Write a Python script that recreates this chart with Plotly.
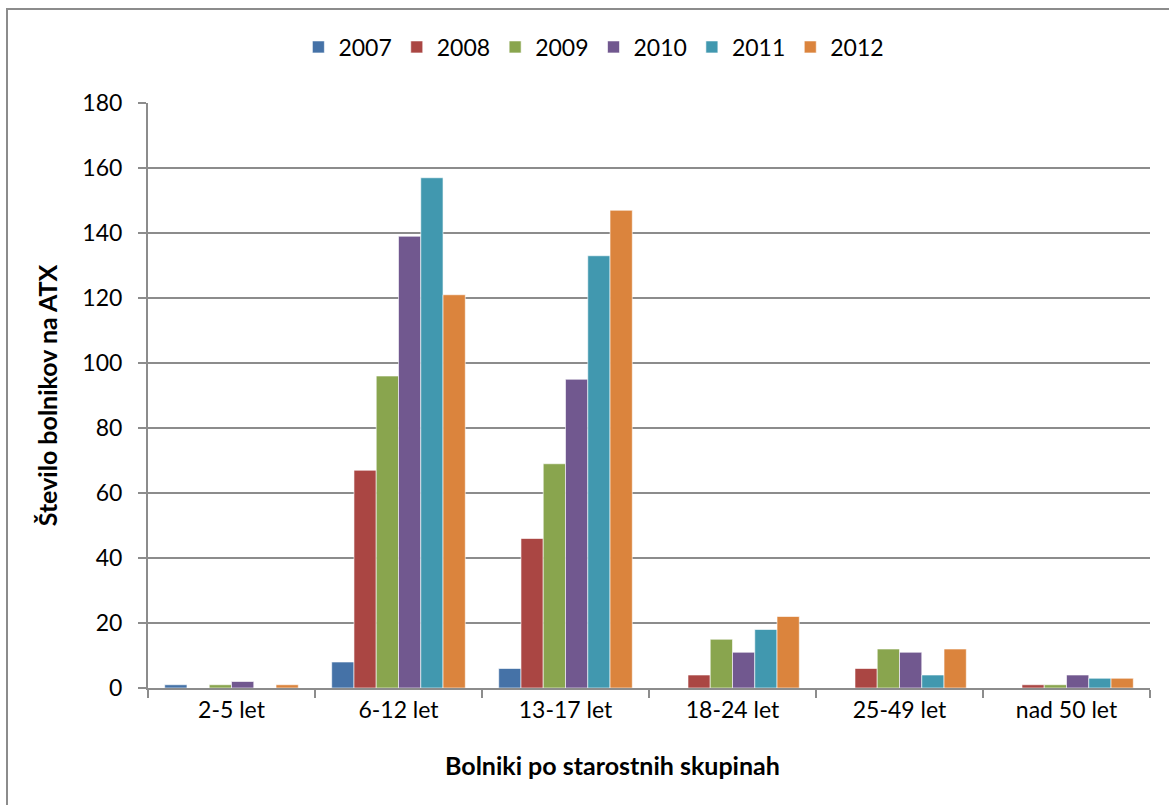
import plotly.graph_objects as go

categories = ["2-5 let", "6-12 let", "13-17 let", "18-24 let", "25-49 let", "nad 50 let"]
years = ["2007", "2008", "2009", "2010", "2011", "2012"]
values_2007 = [1, 8, 6, 0, 0, 0]
values_2008 = [0, 67, 46, 4, 6, 1]
values_2009 = [1, 96, 69, 15, 12, 1]
values_2010 = [2, 139, 95, 11, 11, 4]
values_2011 = [0, 157, 133, 18, 4, 3]
values_2012 = [1, 121, 147, 22, 12, 3]
series = [values_2007, values_2008, values_2009, values_2010, values_2011, values_2012]
colors = ["#4572A7", "#AA4643", "#89A54E", "#71588F", "#4198AF", "#DB843D"]

W, H = 1169, 805
ML, MR, MT, MB = 148, 19, 103, 117
FONT = "Lato, Carlito, Calibri, sans-serif"

fig = go.Figure()
for name, vals, col in zip(years, series, colors):
    fig.add_trace(go.Bar(
        x=categories, y=vals, name=name,
        marker=dict(color=col, line=dict(color="rgba(255,255,255,0.6)", width=1)),
    ))

pw = W - ML - MR
ph = H - MT - MB
# outer chart frame
fig.add_shape(type="rect", xref="paper", yref="paper",
              x0=(7 - ML) / pw, x1=(W + 5 - ML) / pw,
              y0=-(H + 5 - MT - ph) / ph, y1=1 + (MT - 9) / ph,
              line=dict(color="#8c8c8c", width=2), fillcolor="rgba(0,0,0,0)", layer="below")

# x-axis title, placed as in the chart's own layout (slightly left of the plot centre)
fig.add_annotation(
    text="<b>Bolniki po starostnih skupinah</b>", xref="paper", yref="paper",
    x=(612.5 - ML) / pw, y=-(765 - (MT + ph)) / ph, xanchor="center", yanchor="middle",
    showarrow=False, font=dict(family=FONT, size=25, color="black"),
)

fig.update_layout(
    width=W, height=H,
    margin=dict(l=ML, r=MR, t=MT, b=MB),
    paper_bgcolor="white", plot_bgcolor="white",
    barmode="group", bargap=0.2, bargroupgap=0,
    font=dict(family=FONT, size=23, color="black"),
    legend=dict(orientation="h", x=0.445, xanchor="center", y=1 + (MT - 47) / ph, yanchor="middle",
                font=dict(size=23), itemwidth=30, traceorder="normal", tracegroupgap=0),
    xaxis=dict(
        showline=True, linecolor="#8c8c8c", linewidth=2,
        ticks="outside", tickson="boundaries", ticklen=8, tickcolor="#8c8c8c", tickwidth=2,
        tickfont=dict(size=23),
    ),
    yaxis=dict(
        range=[0, 180], dtick=20, tickformat="d",
        showline=True, linecolor="#8c8c8c", linewidth=2,
        showgrid=True, gridcolor="#8c8c8c", gridwidth=2,
        ticks="outside", ticklen=8, tickcolor="#8c8c8c", tickwidth=2,
        tickfont=dict(size=23), ticklabelstandoff=11,
        title=dict(text="<b>Število bolnikov na ATX</b>", font=dict(size=25), standoff=18),
        zeroline=False,
    ),
)

fig.write_html("out.html")
